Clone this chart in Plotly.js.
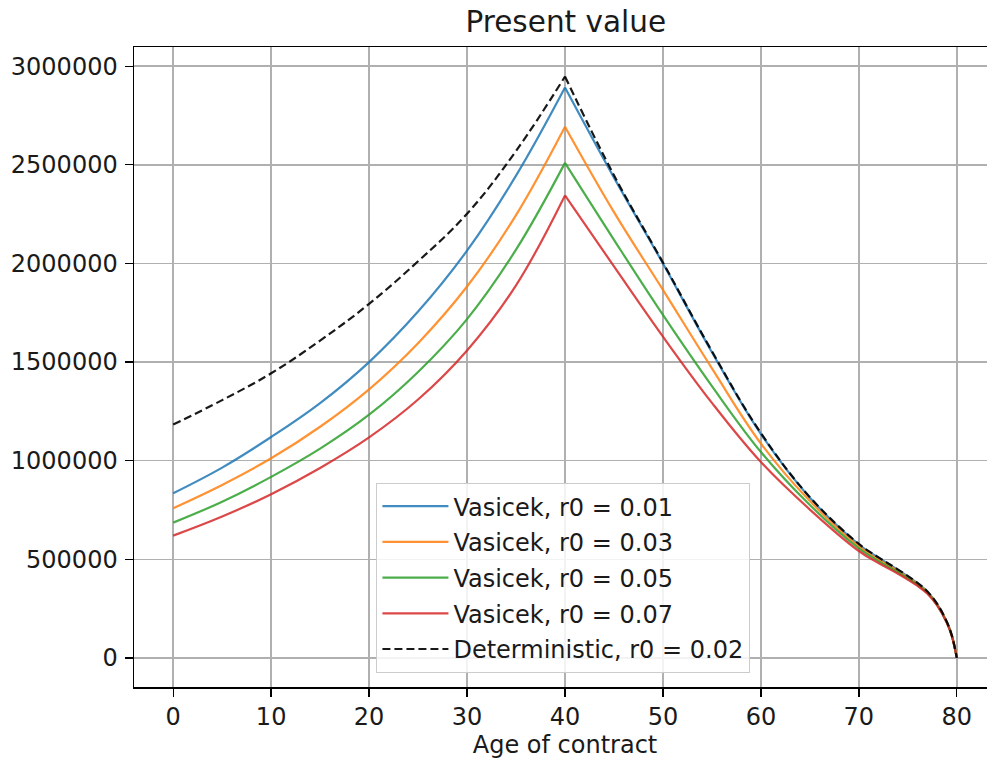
<!DOCTYPE html>
<html>
<head>
<meta charset="utf-8">
<script src="https://cdn.plot.ly/plotly-3.0.1.min.js"></script>
<style>
html,body{margin:0;padding:0;overflow:hidden;background:#fff;width:987px;height:765px;}
#chart{width:997px;height:765px;}
</style>
</head>
<body>
<div id="chart"></div>
<script>
// Age of contract (x values)
const ages = [0, 5, 10, 15, 20, 25, 30, 35, 40, 45, 50, 55, 60, 65, 70, 72, 74, 76, 77, 78, 79, 79.5, 80];
const peakAge = 40;

// Present value series
const vasicek001 = [835000, 965000, 1120000, 1292000, 1500000, 1756000, 2065000, 2445000, 2892000, 2435000, 2000000, 1550000, 1135000, 812000, 575000, 508000, 446000, 378000, 335000, 272000, 180000, 112000, 0];
const vasicek003 = [759000, 877000, 1012000, 1172000, 1362000, 1596000, 1883000, 2245000, 2693000, 2260000, 1866000, 1468000, 1087000, 795000, 565000, 499000, 440000, 374000, 332000, 270000, 179000, 111000, 0];
const vasicek005 = [686000, 792000, 918000, 1061000, 1233000, 1450000, 1718000, 2070000, 2510000, 2120000, 1739000, 1378000, 1044000, 775000, 555000, 491000, 434000, 370000, 329000, 268000, 178000, 110000, 0];
const vasicek007 = [620000, 717000, 830000, 963000, 1118000, 1310000, 1559000, 1889000, 2345000, 1985000, 1629000, 1293000, 993000, 752000, 542000, 481000, 427000, 365000, 325000, 265000, 176000, 109000, 0];
const deterministic002 = [1183000, 1307000, 1443000, 1609000, 1795000, 2011000, 2252000, 2570000, 2948000, 2447000, 2005000, 1555000, 1140000, 815000, 578000, 510000, 448000, 380000, 337000, 274000, 181000, 113000, 0];

const seriesNames = ["Vasicek, r0 = 0.01", "Vasicek, r0 = 0.03", "Vasicek, r0 = 0.05", "Vasicek, r0 = 0.07", "Deterministic, r0 = 0.02"];
const seriesValues = [vasicek001, vasicek003, vasicek005, vasicek007, deterministic002];
const seriesColors = ["#1f77b4", "#ff7f0e", "#2ca02c", "#d62728", "#000000"];
const seriesDash = ["solid", "solid", "solid", "solid", "8px,4px"];

const yTicks = [0, 500000, 1000000, 1500000, 2000000, 2500000, 3000000];
const xTicks = [0, 10, 20, 30, 40, 50, 60, 70, 80];

const FONT = "DejaVu Sans, sans-serif";
const TXT = "#1a1a1a";
const pk = ages.indexOf(peakAge);
const traces = [];
seriesValues.forEach((vals, i) => {
  const line = {color: seriesColors[i], width: 2.2, dash: seriesDash[i], shape: "spline", smoothing: 1.1};
  const op = i < 4 ? 0.85 : 0.9;
  traces.push({x: ages.slice(0, pk + 1), y: vals.slice(0, pk + 1), type: "scatter", mode: "lines",
    name: seriesNames[i], legendgroup: "g" + i, line: line, opacity: op, hoverinfo: "skip"});
  traces.push({x: ages.slice(pk), y: vals.slice(pk), type: "scatter", mode: "lines",
    name: seriesNames[i], legendgroup: "g" + i, showlegend: false, line: line, opacity: op, hoverinfo: "skip"});
});

const layout = {
  width: 997, height: 765,
  margin: {l: 134, r: 1, t: 47, b: 78, pad: 0},
  paper_bgcolor: "#fff", plot_bgcolor: "#fff",
  font: {family: FONT, size: 24, color: TXT},
  title: {text: "Present value", font: {family: FONT, size: 29.5, color: TXT}, x: 0.5675, xanchor: "center", y: 0.972, yanchor: "middle"},
  showlegend: true,
  legend: {x: 0.281, y: 0.022, xanchor: "left", yanchor: "bottom", bgcolor: "rgba(255,255,255,0.85)",
    bordercolor: "#cccccc", borderwidth: 1.2, font: {family: FONT, size: 24, color: TXT}, tracegroupgap: 1.5,
    itemwidth: 66},
  xaxis: {range: [-4, 84], tickvals: xTicks, ticks: "outside", ticklen: 8, tickwidth: 1.3, tickcolor: "#000",
    showgrid: true, gridcolor: "#b0b0b0", gridwidth: 1.5, zeroline: false, showline: true, mirror: true,
    linecolor: "#000", linewidth: 1.5, tickfont: {family: FONT, size: 24, color: TXT},
    title: {text: "Age of contract", font: {family: FONT, size: 24, color: TXT}, standoff: 6}},
  yaxis: {range: [-147500, 3097500], tickvals: yTicks, tickformat: "d", ticks: "outside", ticklen: 8, tickwidth: 1.3, tickcolor: "#000",
    showgrid: true, gridcolor: "#b0b0b0", gridwidth: 1.5, zeroline: false, showline: true, mirror: true,
    linecolor: "#000", linewidth: 1.5, tickfont: {family: FONT, size: 24, color: TXT}, ticklabelstandoff: 2}
};

Plotly.newPlot("chart", traces, layout, {staticPlot: true, displayModeBar: false});
</script>
</body>
</html>
